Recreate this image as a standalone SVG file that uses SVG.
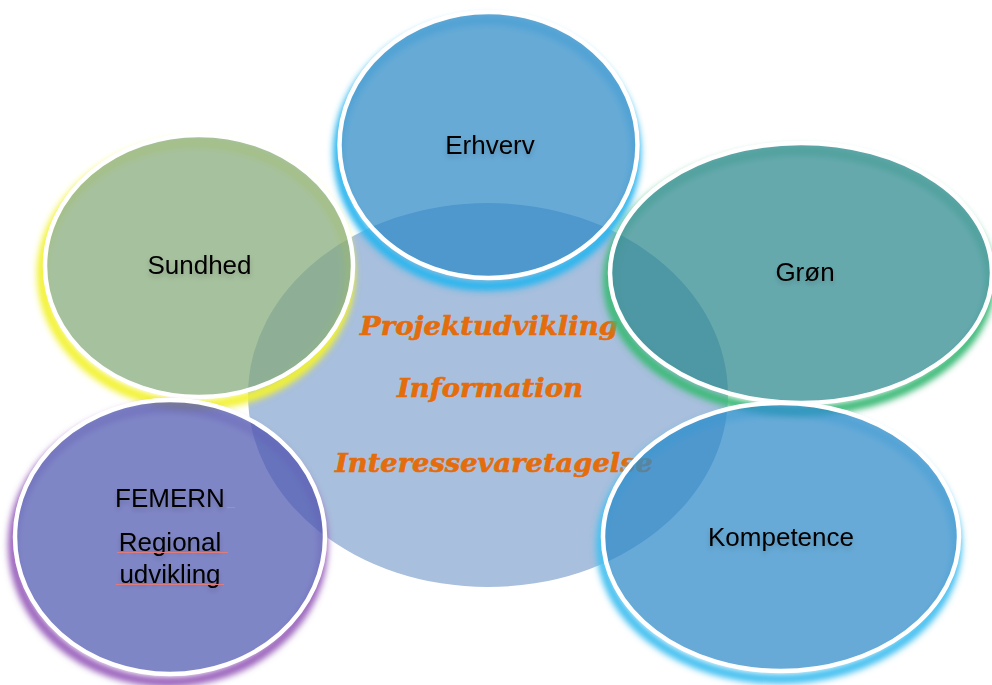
<svg xmlns="http://www.w3.org/2000/svg" width="992" height="685" viewBox="0 0 992 685">
  <defs>
    <filter id="glow" x="-20%" y="-20%" width="140%" height="140%">
      <feGaussianBlur stdDeviation="3"/>
    </filter>
    <filter id="tshadow" x="-20%" y="-40%" width="140%" height="180%">
      <feDropShadow dx="0" dy="3" stdDeviation="2.5" flood-color="#000" flood-opacity="0.18"/>
    </filter>
    <mask id="m-erh" maskUnits="userSpaceOnUse" x="0" y="0" width="992" height="685">
      <rect width="992" height="685" fill="#fff"/>
      <ellipse cx="488.5" cy="145" rx="147" ry="131" fill="#606060"/>
    </mask>
    <mask id="m-sun" maskUnits="userSpaceOnUse" x="0" y="0" width="992" height="685">
      <rect width="992" height="685" fill="#fff"/>
      <ellipse cx="199" cy="266" rx="152" ry="129" fill="#606060"/>
    </mask>
    <mask id="m-gro" maskUnits="userSpaceOnUse" x="0" y="0" width="992" height="685">
      <rect width="992" height="685" fill="#fff"/>
      <ellipse cx="801" cy="273" rx="189" ry="128" fill="#606060"/>
    </mask>
    <mask id="m-fem" maskUnits="userSpaceOnUse" x="0" y="0" width="992" height="685">
      <rect width="992" height="685" fill="#fff"/>
      <ellipse cx="170" cy="537" rx="153" ry="135" fill="#606060"/>
    </mask>
    <mask id="m-kom" maskUnits="userSpaceOnUse" x="0" y="0" width="992" height="685">
      <rect width="992" height="685" fill="#fff"/>
      <ellipse cx="781" cy="537" rx="176" ry="132" fill="#606060"/>
    </mask>
  </defs>
  <style>
    .ring { fill: none; stroke-width: 10; }
    .disc { fill-opacity: 0.72; stroke: #ffffff; stroke-width: 4.5; }
    .lbl { font-family: "Liberation Sans", Arial, sans-serif; font-size: 26px; fill: #000; text-anchor: middle; }
    .core { font-family: "DejaVu Serif", "Liberation Serif", serif; font-size: 26px; font-weight: bold; font-style: italic; fill: #e46c0a; stroke: #e46c0a; stroke-width: 0.6; text-anchor: middle; }
    .spell { stroke: #e07b7b; stroke-width: 1; }
  </style>

  <rect width="992" height="685" fill="#ffffff"/>

  <g id="center">
    <ellipse cx="488" cy="395" rx="240" ry="192" fill="#a8bfdd"/>
    <text class="core" x="489" y="335" textLength="258" lengthAdjust="spacingAndGlyphs">Projektudvikling</text>
    <text class="core" x="490" y="397" textLength="186" lengthAdjust="spacingAndGlyphs">Information</text>
    <text class="core" x="494" y="472" textLength="318" lengthAdjust="spacingAndGlyphs">Interessevaretagelse</text>
  </g>

  <g id="connectors"></g>

  <g id="erhverv">
    <g mask="url(#m-erh)">
      <ellipse class="ring" cx="487" cy="153" rx="149" ry="133" stroke="#2bb5ee" filter="url(#glow)"/>
    </g>
    <ellipse class="disc" cx="488.5" cy="145" rx="149" ry="133" fill="#2c89c6"/>
    <text class="lbl" x="490" y="154" filter="url(#tshadow)">Erhverv</text>
  </g>

  <g id="sundhed">
    <g mask="url(#m-sun)">
      <ellipse class="ring" cx="196" cy="274" rx="154" ry="131" stroke="#f2f232" filter="url(#glow)"/>
    </g>
    <ellipse class="disc" cx="199" cy="266" rx="154" ry="131" fill="#83a978"/>
    <text class="lbl" x="199.5" y="274" filter="url(#tshadow)">Sundhed</text>
  </g>

  <g id="groen">
    <g mask="url(#m-gro)">
      <ellipse class="ring" cx="799" cy="281" rx="191" ry="130" stroke="#3cba78" filter="url(#glow)"/>
    </g>
    <ellipse class="disc" cx="801" cy="273" rx="191" ry="130" fill="#2b888e"/>
    <text class="lbl" x="805" y="281" filter="url(#tshadow)">Grøn</text>
  </g>

  <g id="femern">
    <g mask="url(#m-fem)">
      <ellipse class="ring" cx="168" cy="545" rx="155" ry="137" stroke="#9a62bc" filter="url(#glow)"/>
    </g>
    <ellipse class="disc" cx="170" cy="537" rx="155" ry="137" fill="#4d58b0"/>
    <text class="lbl" x="170" y="507" filter="url(#tshadow)">FEMERN</text>
    <text class="lbl" x="170" y="551" filter="url(#tshadow)">Regional</text>
    <text class="lbl" x="170" y="583" filter="url(#tshadow)">udvikling</text>
    <line class="spell" x1="227" y1="507.5" x2="235" y2="507.5"/>
    <line class="spell" x1="117" y1="552.5" x2="228" y2="552.5"/>
    <line class="spell" x1="116" y1="584.5" x2="224" y2="584.5"/>
  </g>

  <g id="kompetence">
    <g mask="url(#m-kom)">
      <ellipse class="ring" cx="779" cy="545" rx="178" ry="134" stroke="#44c0f0" filter="url(#glow)"/>
    </g>
    <ellipse class="disc" cx="781" cy="537" rx="178" ry="134" fill="#2c89c7"/>
    <text class="lbl" x="781" y="546" filter="url(#tshadow)">Kompetence</text>
  </g>
</svg>
